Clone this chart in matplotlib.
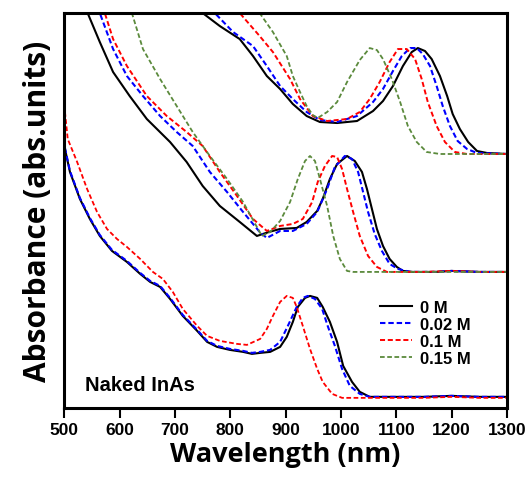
import matplotlib
matplotlib.use("Agg")
import matplotlib.pyplot as plt

# ---- data (wavelength in nm, absorbance in arb. units, spectra offset vertically) ----
# bottom group: naked InAs
bot_0_x = [501, 510, 528, 546, 564, 586, 613, 637, 655, 673, 691, 714, 740, 758, 776, 799, 823, 839, 854,
           872, 890, 902, 913, 922, 935, 944, 957, 967, 980, 993, 1004, 1020, 1034, 1052, 1100, 1150, 1200, 1250, 1300]
bot_0_y = [2.59, 2.36, 2.09, 1.89, 1.72, 1.57, 1.46, 1.34, 1.26, 1.21, 1.09, 0.92, 0.77, 0.66, 0.61, 0.58, 0.56, 0.54, 0.55,
           0.56, 0.61, 0.71, 0.86, 1.01, 1.10, 1.12, 1.10, 1.01, 0.86, 0.66, 0.42, 0.26, 0.16, 0.11, 0.11, 0.11, 0.12, 0.11, 0.11]
bot_002_x = [501, 510, 528, 546, 564, 586, 613, 637, 655, 673, 691, 714, 740, 758, 776, 799, 823, 839, 854,
             872, 890, 904, 920, 931, 940, 953, 966, 976, 989, 1002, 1016, 1034, 1052, 1100, 1150, 1200, 1250, 1300]
bot_002_y = [2.60, 2.37, 2.10, 1.90, 1.73, 1.58, 1.47, 1.35, 1.27, 1.22, 1.10, 0.93, 0.78, 0.67, 0.62, 0.59, 0.57, 0.55, 0.56,
             0.58, 0.66, 0.82, 1.01, 1.10, 1.12, 1.09, 0.99, 0.82, 0.62, 0.39, 0.22, 0.14, 0.11, 0.11, 0.11, 0.12, 0.11, 0.11]
bot_01_x = [501, 506, 523, 541, 559, 577, 595, 613, 637, 660, 678, 696, 714, 740, 758, 781, 812, 830, 854,
            866, 877, 890, 902, 913, 920, 931, 944, 957, 967, 984, 1002, 1050, 1100, 1150, 1200, 1250, 1300]
bot_01_y = [2.96, 2.69, 2.46, 2.19, 1.96, 1.79, 1.69, 1.61, 1.49, 1.36, 1.29, 1.16, 0.99, 0.82, 0.72, 0.67, 0.64, 0.63, 0.69,
            0.79, 0.92, 1.06, 1.12, 1.10, 1.01, 0.82, 0.59, 0.39, 0.26, 0.14, 0.10, 0.10, 0.10, 0.10, 0.11, 0.10, 0.10]

# middle group
mid_0_x = [519, 542, 564, 588, 618, 649, 691, 721, 750, 781, 817, 848, 870, 890, 920, 938, 957, 967, 980, 993,
           1011, 1025, 1038, 1047, 1056, 1065, 1076, 1088, 1101, 1112, 1130, 1170, 1200, 1250, 1300]
mid_0_y = [4.19, 3.95, 3.66, 3.36, 3.12, 2.89, 2.66, 2.46, 2.22, 2.02, 1.86, 1.72, 1.76, 1.79, 1.80, 1.86, 1.97, 2.09, 2.29, 2.44,
           2.52, 2.47, 2.36, 2.19, 1.99, 1.79, 1.62, 1.49, 1.41, 1.37, 1.36, 1.36, 1.37, 1.36, 1.36]
mid_002_x = [546, 564, 588, 613, 642, 673, 703, 732, 763, 794, 823, 853, 866, 890, 913, 938, 957, 975, 989,
             1007, 1020, 1031, 1040, 1049, 1061, 1074, 1088, 1103, 1125, 1170, 1200, 1250, 1300]
mid_002_y = [4.24, 3.95, 3.59, 3.32, 3.12, 2.92, 2.76, 2.62, 2.36, 2.16, 1.96, 1.76, 1.70, 1.77, 1.77, 1.84, 1.96, 2.19, 2.41,
             2.52, 2.49, 2.36, 2.16, 1.96, 1.74, 1.57, 1.44, 1.39, 1.36, 1.36, 1.37, 1.36, 1.36]
mid_01_x = [555, 573, 588, 613, 649, 685, 721, 750, 781, 812, 841, 866, 890, 913, 931, 948, 958, 971, 984,
            993, 1002, 1011, 1022, 1034, 1049, 1065, 1083, 1150, 1200, 1250, 1300]
mid_01_y = [4.24, 3.95, 3.69, 3.42, 3.12, 2.92, 2.76, 2.62, 2.36, 2.12, 1.89, 1.77, 1.82, 1.84, 1.89, 2.06, 2.26, 2.42, 2.52,
            2.51, 2.39, 2.19, 1.96, 1.72, 1.52, 1.41, 1.36, 1.36, 1.37, 1.36, 1.36]
mid_015_x = [604, 622, 642, 673, 703, 732, 763, 794, 823, 857, 872, 890, 908, 922, 935, 944, 953, 962,
             975, 986, 998, 1011, 1022, 1100, 1200, 1300]
mid_015_y = [4.24, 3.95, 3.59, 3.29, 3.02, 2.76, 2.52, 2.29, 2.06, 1.72, 1.76, 1.87, 2.06, 2.29, 2.47, 2.52, 2.47, 2.29,
             2.02, 1.72, 1.49, 1.37, 1.36, 1.36, 1.36, 1.36]

# top group
top_0_x = [732, 750, 781, 817, 841, 866, 890, 913, 938, 962, 993, 1029, 1058, 1076, 1094, 1112, 1128, 1139,
           1152, 1164, 1179, 1192, 1202, 1215, 1230, 1246, 1264, 1300]
top_0_y = [4.24, 3.95, 3.82, 3.69, 3.52, 3.32, 3.19, 3.04, 2.92, 2.86, 2.85, 2.87, 2.97, 3.07, 3.22, 3.42, 3.56, 3.60,
           3.57, 3.49, 3.32, 3.12, 2.94, 2.79, 2.66, 2.57, 2.55, 2.54]
top_002_x = [754, 772, 805, 841, 866, 890, 913, 938, 962, 993, 1029, 1058, 1076, 1094, 1110, 1125, 1137,
             1148, 1161, 1173, 1184, 1197, 1211, 1228, 1246, 1300]
top_002_y = [4.24, 3.95, 3.76, 3.62, 3.42, 3.22, 3.09, 2.96, 2.88, 2.86, 2.92, 3.06, 3.19, 3.37, 3.52, 3.60, 3.60,
             3.54, 3.42, 3.22, 3.02, 2.82, 2.67, 2.59, 2.55, 2.54]
top_01_x = [799, 817, 853, 877, 908, 926, 949, 975, 1011, 1034, 1052, 1070, 1088, 1103, 1119, 1134, 1146,
            1157, 1173, 1188, 1206, 1228, 1300]
top_01_y = [4.24, 3.95, 3.72, 3.56, 3.29, 3.09, 2.92, 2.87, 2.89, 2.96, 3.09, 3.26, 3.46, 3.59, 3.59, 3.49, 3.29,
            3.06, 2.82, 2.66, 2.56, 2.54, 2.54]
top_015_x = [835, 853, 877, 902, 913, 926, 938, 949, 958, 975, 993, 1011, 1034, 1052, 1065, 1076, 1092, 1107,
             1121, 1137, 1155, 1179, 1250, 1300]
top_015_y = [4.24, 3.95, 3.76, 3.52, 3.32, 3.16, 3.02, 2.93, 2.90, 2.96, 3.06, 3.26, 3.48, 3.60, 3.58, 3.49, 3.29, 3.06,
             2.82, 2.66, 2.56, 2.54, 2.54, 2.54]

labels = ["0 M", "0.02 M", "0.1 M", "0.15 M"]
colors = ["black", "#0000ff", "#ff0000", "#5b8a3c"]
xticks = [500, 600, 700, 800, 900, 1000, 1100, 1200, 1300]

fig = plt.figure(figsize=(5.28, 4.85), dpi=100)
ax = fig.add_axes([0.122, 0.157, 0.838, 0.814])

dash = (0, (2.6, 1.4))
# bottom
ax.plot(bot_0_x, bot_0_y, color=colors[0], lw=1.5)
ax.plot(bot_002_x, bot_002_y, color=colors[1], lw=1.5, linestyle=dash)
ax.plot(bot_01_x, bot_01_y, color=colors[2], lw=1.3, linestyle=dash)
# middle
ax.plot(mid_0_x, mid_0_y, color=colors[0], lw=1.5)
ax.plot(mid_002_x, mid_002_y, color=colors[1], lw=1.5, linestyle=dash)
ax.plot(mid_01_x, mid_01_y, color=colors[2], lw=1.4, linestyle=dash)
ax.plot(mid_015_x, mid_015_y, color=colors[3], lw=1.3, linestyle=dash)
# top
ax.plot(top_0_x, top_0_y, color=colors[0], lw=1.5, label=labels[0])
ax.plot(top_002_x, top_002_y, color=colors[1], lw=1.5, linestyle=dash, label=labels[1])
ax.plot(top_01_x, top_01_y, color=colors[2], lw=1.4, linestyle=dash, label=labels[2])
ax.plot(top_015_x, top_015_y, color=colors[3], lw=1.3, linestyle=dash, label=labels[3])

ax.set_xlim(500, 1300)
ax.set_ylim(0, 3.95)
ax.set_xticks(xticks)
ax.set_xticklabels([str(t) for t in xticks], fontsize=12.5, fontweight="bold", family="Liberation Sans")
ax.set_yticks([])
ax.tick_params(axis="x", direction="out", length=7, width=1.5, pad=3)
for s in ax.spines.values():
    s.set_linewidth(2.2)

ax.set_xlabel("Wavelength (nm)", fontsize=19.5, fontweight="bold", family="Open Sans", labelpad=3)
ax.set_ylabel("Absorbance (abs.units)", fontsize=21.5, fontweight="bold", family="Open Sans", labelpad=8)

ax.text(0.047, 0.06, "Naked InAs", transform=ax.transAxes, fontsize=14.5, fontweight="bold",
        family="Liberation Sans", ha="left", va="center")

leg = ax.legend(loc="upper left", bbox_to_anchor=(0.695, 0.295), frameon=False,
                prop={"family": "Liberation Sans", "weight": "bold", "size": 12},
                handlelength=1.9, handletextpad=0.5, labelspacing=0.12, borderpad=0)

fig.savefig("out.png", dpi=100)
